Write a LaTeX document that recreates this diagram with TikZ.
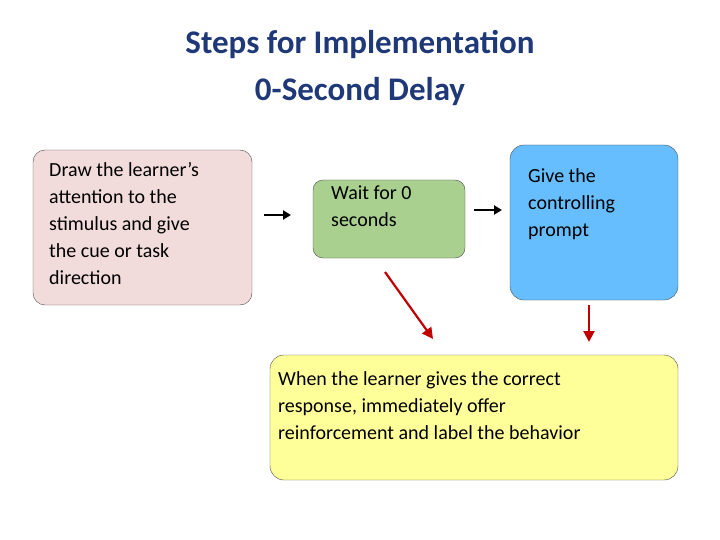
\documentclass[tikz,border=0pt]{standalone}
\usepackage{fontspec}
\setmainfont{Carlito}
\usetikzlibrary{positioning,arrows.meta}

\definecolor{titleblue}{RGB}{31,56,120}
\definecolor{boxpink}{RGB}{242,220,219}
\definecolor{boxgreen}{RGB}{169,208,142}
\definecolor{boxblue}{RGB}{102,190,255}
\definecolor{boxyellow}{RGB}{255,255,153}
\definecolor{arrowred}{RGB}{192,0,0}

\tikzset{
	steptext/.style={align=left, anchor=north west,
		inner sep=0pt, font=\fontsize{20}{27}\selectfont},
	stepbox/.style={draw=black!70},
	blackarrow/.style={-{Triangle[length=8pt,width=9pt]}, line width=2pt},
	redarrow/.style={-{Triangle[length=11pt,width=11pt]}, line width=2.2pt, arrowred}
}

\begin{document}
\begin{tikzpicture}[x=1pt, y=-1pt]

	\useasboundingbox (0,0) rectangle (720,540);

	% title
	\node[font=\bfseries\fontsize{33}{47}\selectfont, text=titleblue, align=center]
	(title) at (360,68) {Steps for Implementation\\0-Second Delay};

	% boxes
	\filldraw[stepbox, fill=boxpink, rounded corners=12pt] (33,150) rectangle (252,305);
	\node[steptext] (attend) at (49,162) {Draw the learner’s\\attention to the\\stimulus and give\\the cue or task\\direction};

	\filldraw[stepbox, fill=boxgreen, rounded corners=10pt] (313,180) rectangle (465,258);
	\node[steptext] (wait) at (331,186) {Wait for 0\\seconds};

	\filldraw[stepbox, fill=boxblue, rounded corners=14pt] (510,145) rectangle (678,300);
	\node[steptext] (prompt) at (528,168) {Give the\\controlling\\prompt};

	\filldraw[stepbox, fill=boxyellow, rounded corners=14pt] (270,355) rectangle (678,480);
	\node[steptext] (reinforce) at (278,371) {When the learner gives the correct\\response, immediately offer\\reinforcement and label the behavior};

	% arrows
	\coordinate (a1s) at (264,215);
	\coordinate (a1e) at (291,215);
	\coordinate (a2s) at (474,210);
	\coordinate (a2e) at (502,210);
	\coordinate (r1s) at (385,272);
	\coordinate (r1e) at (433,339);
	\coordinate (r2s) at (589,305);
	\coordinate (r2e) at (589,342);

	\draw[blackarrow] (a1s) -- (a1e);
	\draw[blackarrow] (a2s) -- (a2e);
	\draw[redarrow] (r1s) -- (r1e);
	\draw[redarrow] (r2s) -- (r2e);

\end{tikzpicture}
\end{document}
